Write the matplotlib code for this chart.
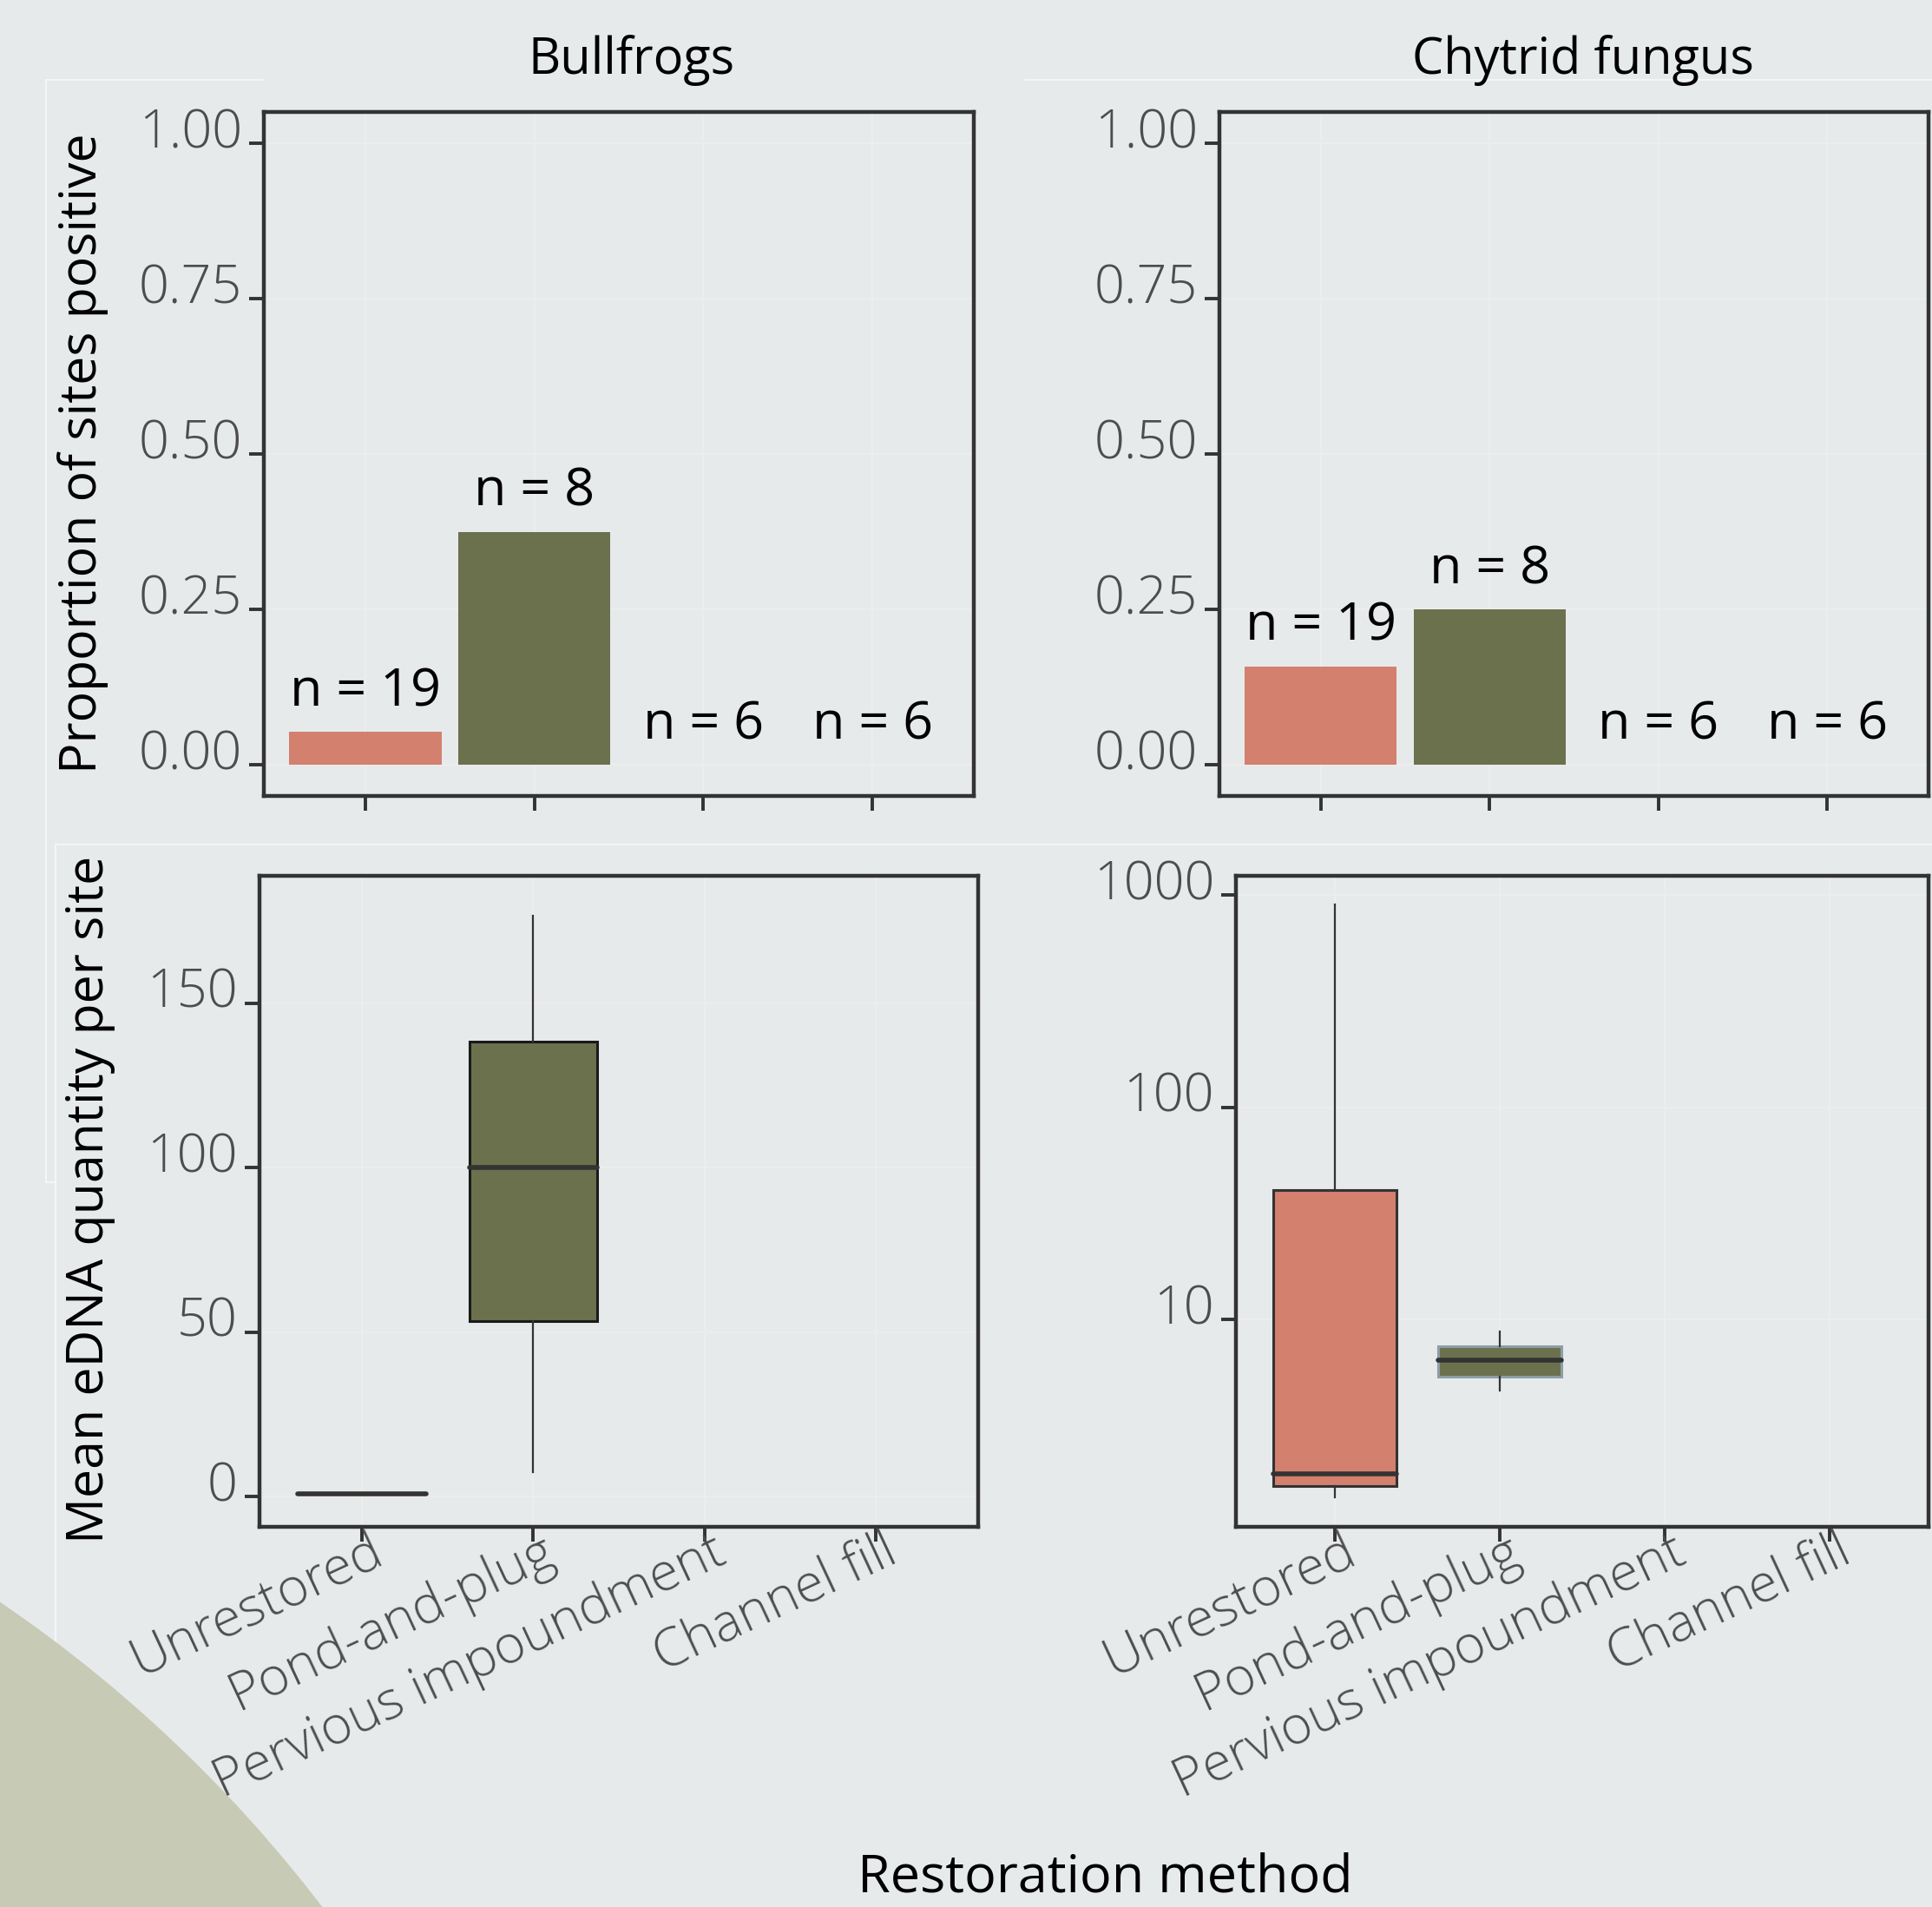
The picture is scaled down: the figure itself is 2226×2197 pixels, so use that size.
import matplotlib
matplotlib.use("Agg")
import matplotlib.pyplot as plt
from matplotlib.patches import Ellipse
from matplotlib.lines import Line2D
from matplotlib.ticker import NullLocator
from matplotlib.transforms import ScaledTranslation

plt.rcParams['font.family'] = ['Open Sans', 'DejaVu Sans']

W, H = 2226, 2197
DPI = 100

methods = ["Unrestored", "Pond-and-plug", "Pervious impoundment", "Channel fill"]
n_sites = [19, 8, 6, 6]
prop_bullfrog = [0.053, 0.375, 0.0, 0.0]
prop_chytrid = [0.158, 0.25, 0.0, 0.0]

# whislo, q1, median, q3, whishi per method (only methods with detections)
bullfrog_unrestored = [0.8, 0.8, 0.8, 0.8, 0.8]
bullfrog_pond = [7.4, 53.3, 100.0, 138.3, 176.5]
chytrid_unrestored = [1.45, 1.64, 1.87, 40.7, 901.0]
chytrid_pond = [4.62, 5.37, 6.43, 7.5, 8.8]

fill_colors = ["#d3806f", "#6b714d"]
bg = "#e7eaeb"
ink = "#333333"
tick_grey = "#4d4d4d"
FS = 44
LABEL_FS = 42.5
TITLE_FS = 41.5


def px_rect(left, top, right, bottom):
    return [left / W, 1 - bottom / H, (right - left) / W, (bottom - top) / H]


def shift_labels(labels, fig, dx, dy):
    off = ScaledTranslation(dx / DPI, dy / DPI, fig.dpi_scale_trans)
    for lab in labels:
        lab.set_transform(lab.get_transform() + off)


def base_style(ax):
    ax.set_facecolor(bg)
    for s in ax.spines.values():
        s.set_linewidth(3.2)
        s.set_color(ink)
    ax.tick_params(axis='both', length=12, width=2.8, color=ink,
                   labelcolor=tick_grey, labelsize=FS, pad=6)
    ax.tick_params(axis='x', pad=1)
    ax.grid(True, color="#eeeeec", lw=1.3)
    ax.set_axisbelow(True)
    ax.set_xlim(0.4, 4.6)
    ax.set_xticks([1, 2, 3, 4])


def bar_panel(ax, props):
    base_style(ax)
    x = [1, 2, 3, 4]
    ax.bar(x[:2], props[:2], width=0.9, color=fill_colors, zorder=2)
    ax.set_ylim(-0.05, 1.05)
    ax.set_yticks([0, 0.25, 0.5, 0.75, 1.0])
    ax.set_yticklabels(["0.00", "0.25", "0.50", "0.75", "1.00"], fontweight='light')
    ax.set_xticklabels([])
    for xi, p, n in zip(x, props, n_sites):
        ax.annotate(f"n = {n}", (xi, p), xytext=(0, 21.6), textcoords='offset points',
                    ha='center', va='baseline', fontsize=FS, color='black')


def box_panel(ax, rows, edge_colors):
    base_style(ax)
    stats = [dict(whislo=r[0], q1=r[1], med=r[2], q3=r[3], whishi=r[4]) for r in rows]
    parts = ax.bxp(stats, positions=[1, 2], widths=0.75, patch_artist=True,
                   showfliers=False, showcaps=False,
                   whiskerprops=dict(color=ink, lw=1.6),
                   medianprops=dict(color=ink, lw=4, solid_capstyle='round'),
                   boxprops=dict(lw=2.2))
    for box, fc, ec in zip(parts['boxes'], fill_colors, edge_colors):
        box.set_facecolor(fc)
        box.set_edgecolor(ec)
        box.set_zorder(2)
    for m in parts['medians']:
        m.set_zorder(3)
    ax.set_xticks([1, 2, 3, 4])
    ax.set_xticklabels(methods, rotation=25, ha='right', va='top',
                       rotation_mode='anchor', fontweight='light')
    ax.set_xlim(0.4, 4.6)


fig = plt.figure(figsize=(W / DPI, H / DPI), dpi=DPI, facecolor=bg)

# faint frame lines behind the panels
frame_lines = [((53, 92), (303, 92)), ((1181, 92), (2226, 92)),
               ((53, 92), (53, 1362)), ((53, 1362), (64, 1362)),
               ((64, 973), (64, 2197)), ((64, 973), (2226, 973))]
for (x0, y0), (x1, y1) in frame_lines:
    fig.add_artist(Line2D([x0 / W, x1 / W], [1 - y0 / H, 1 - y1 / H],
                          transform=fig.transFigure, color="#f7f8f8", lw=1.2, zorder=-3))

# round shape in the lower-left corner
r = 1599
fig.add_artist(Ellipse((-899 / W, 1 - 3168 / H), 2 * r / W, 2 * r / H,
                       transform=fig.transFigure, facecolor="#c7cab4",
                       edgecolor='none', zorder=-2))

ax_tl = fig.add_axes(px_rect(304, 129, 1122, 917))
ax_tr = fig.add_axes(px_rect(1405, 129, 2222, 917))
ax_bl = fig.add_axes(px_rect(299, 1009, 1127, 1759))
ax_br = fig.add_axes(px_rect(1424, 1009, 2222, 1759))

bar_panel(ax_tl, prop_bullfrog)
bar_panel(ax_tr, prop_chytrid)

box_panel(ax_bl, [bullfrog_unrestored, bullfrog_pond], [ink, "#1a1a1a"])
ax_bl.set_ylim(-9.2, 188.7)
ax_bl.set_yticks([0, 50, 100, 150])
ax_bl.set_yticklabels(["0", "50", "100", "150"], fontweight='light')

box_panel(ax_br, [chytrid_unrestored, chytrid_pond], [ink, "#8c9ea4"])
ax_br.set_yscale('log')
ax_br.set_ylim(10 ** 0.0225, 10 ** 3.09)
ax_br.set_yticks([10, 100, 1000])
ax_br.set_yticklabels(["10", "100", "1000"], fontweight='light')
ax_br.yaxis.set_minor_locator(NullLocator())
ax_br.grid(True, color="#eeeeec", lw=1.3)

# y tick labels sit a little above their ticks; the slanted x labels tuck up under the axis
for ax in (ax_tl, ax_tr, ax_bl, ax_br):
    shift_labels(ax.get_yticklabels(), fig, 0, 18)
for ax in (ax_bl, ax_br):
    shift_labels(ax.get_xticklabels(), fig, 8, 20)

fig.text(727 / W, 1 - 85 / H, "Bullfrogs", ha='center', va='baseline', fontsize=TITLE_FS)
fig.text(1824 / W, 1 - 85 / H, "Chytrid fungus", ha='center', va='baseline', fontsize=TITLE_FS)
fig.text(96 / W, 1 - 522 / H, "Proportion of sites positive", rotation=90,
         ha='center', va='center', fontsize=LABEL_FS)
fig.text(104 / W, 1 - 1382 / H, "Mean eDNA quantity per site", rotation=90,
         ha='center', va='center', fontsize=LABEL_FS)
fig.text(1273 / W, 1 - 2180 / H, "Restoration method", ha='center', va='baseline',
         fontsize=FS)

fig.savefig("out.png", dpi=DPI, facecolor=bg)
